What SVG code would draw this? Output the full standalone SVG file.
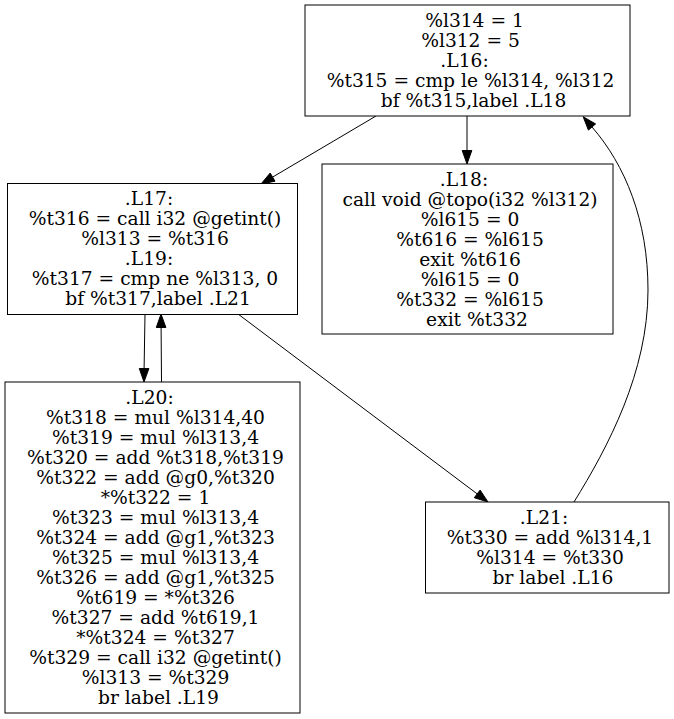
<svg xmlns="http://www.w3.org/2000/svg" width="674" height="719" viewBox="0 0 674 719">
<style>
.box{fill:#fff;stroke:#000;stroke-width:1}
.lbl{font-family:"DejaVu Serif","Liberation Serif",serif;font-size:18.67px;fill:#000;text-anchor:middle}
.edge{fill:none;stroke:#000;stroke-width:1}
.head{fill:#000;stroke:#000;stroke-width:1}
</style>
<rect width="674" height="719" fill="#fff"/>
<g id="connectors">
<path class="edge" d="M376,116 L272.6,177.1"/>
<polygon class="head" points="275.0,181.2 270.2,173.0 261,184"/>
<path class="edge" d="M467,116 L467,150.5"/>
<polygon class="head" points="462.2,150.5 471.8,150.5 467,164"/>
<path class="edge" d="M145,314 L144.1,368.5"/>
<polygon class="head" points="139.3,368.5 148.9,368.5 144,382"/>
<path class="edge" d="M161.5,382 L161.1,327.5"/>
<polygon class="head" points="156.3,327.5 165.9,327.5 161,314"/>
<path class="edge" d="M238,314 L477.2,493.9"/>
<polygon class="head" points="474.3,497.7 480.1,490.1 488,502"/>
<path class="edge" d="M574,502 C608,447 648,372 648,290 C648,220 625,165 592,127"/>
<polygon class="head" points="595.6,123.9 588.4,130.1 583.2,116.8"/>
</g>
<g id="node-L16">
<rect class="box" x="305" y="5" width="325" height="111"/>
<text class="lbl">
<tspan x="477.5" y="26.8">%l314 = 1</tspan>
<tspan x="473.5" y="46.8">%l312 = 5</tspan>
<tspan x="467.5" y="66.8">.L16:</tspan>
<tspan x="473.5" y="86.8">%t315 = cmp le %l314, %l312</tspan>
<tspan x="473.5" y="106.8">bf %t315,label .L18</tspan>
</text>
</g>
<g id="node-L17">
<rect class="box" x="7.5" y="183.5" width="290" height="131"/>
<text class="lbl">
<tspan x="152" y="204.8">.L17:</tspan>
<tspan x="158" y="224.8">%t316 = call i32 @getint()</tspan>
<tspan x="158" y="244.8">%l313 = %t316</tspan>
<tspan x="152" y="264.8">.L19:</tspan>
<tspan x="158" y="284.8">%t317 = cmp ne %l313, 0</tspan>
<tspan x="158" y="304.8">bf %t317,label .L21</tspan>
</text>
</g>
<g id="node-L18">
<rect class="box" x="322" y="164" width="291" height="170"/>
<text class="lbl">
<tspan x="467" y="185.8">.L18:</tspan>
<tspan x="473" y="205.8">call void @topo(i32 %l312)</tspan>
<tspan x="473" y="225.8">%l615 = 0</tspan>
<tspan x="473" y="245.8">%t616 = %l615</tspan>
<tspan x="473" y="265.8">exit %t616</tspan>
<tspan x="473" y="285.8">%l615 = 0</tspan>
<tspan x="473" y="305.8">%t332 = %l615</tspan>
<tspan x="477" y="325.8">exit %t332</tspan>
</text>
</g>
<g id="node-L20">
<rect class="box" x="5" y="382" width="295" height="331"/>
<text class="lbl">
<tspan x="152.5" y="403.8">.L20:</tspan>
<tspan x="158.5" y="423.8">%t318 = mul %l314,40</tspan>
<tspan x="158.5" y="443.8">%t319 = mul %l313,4</tspan>
<tspan x="158.5" y="463.8">%t320 = add %t318,%t319</tspan>
<tspan x="158.5" y="483.8">%t322 = add @g0,%t320</tspan>
<tspan x="158.5" y="503.8">*%t322 = 1</tspan>
<tspan x="158.5" y="523.8">%t323 = mul %l313,4</tspan>
<tspan x="158.5" y="543.8">%t324 = add @g1,%t323</tspan>
<tspan x="158.5" y="563.8">%t325 = mul %l313,4</tspan>
<tspan x="158.5" y="583.8">%t326 = add @g1,%t325</tspan>
<tspan x="158.5" y="603.8">%t619 = *%t326</tspan>
<tspan x="158.5" y="623.8">%t327 = add %t619,1</tspan>
<tspan x="158.5" y="643.8">*%t324 = %t327</tspan>
<tspan x="158.5" y="663.8">%t329 = call i32 @getint()</tspan>
<tspan x="158.5" y="683.8">%l313 = %t329</tspan>
<tspan x="158.5" y="703.8">br label .L19</tspan>
</text>
</g>
<g id="node-L21">
<rect class="box" x="425.5" y="502" width="243.5" height="91"/>
<text class="lbl">
<tspan x="547" y="523.8">.L21:</tspan>
<tspan x="553" y="543.8">%t330 = add %l314,1</tspan>
<tspan x="553" y="563.8">%l314 = %t330</tspan>
<tspan x="553" y="583.8">br label .L16</tspan>
</text>
</g>
</svg>
